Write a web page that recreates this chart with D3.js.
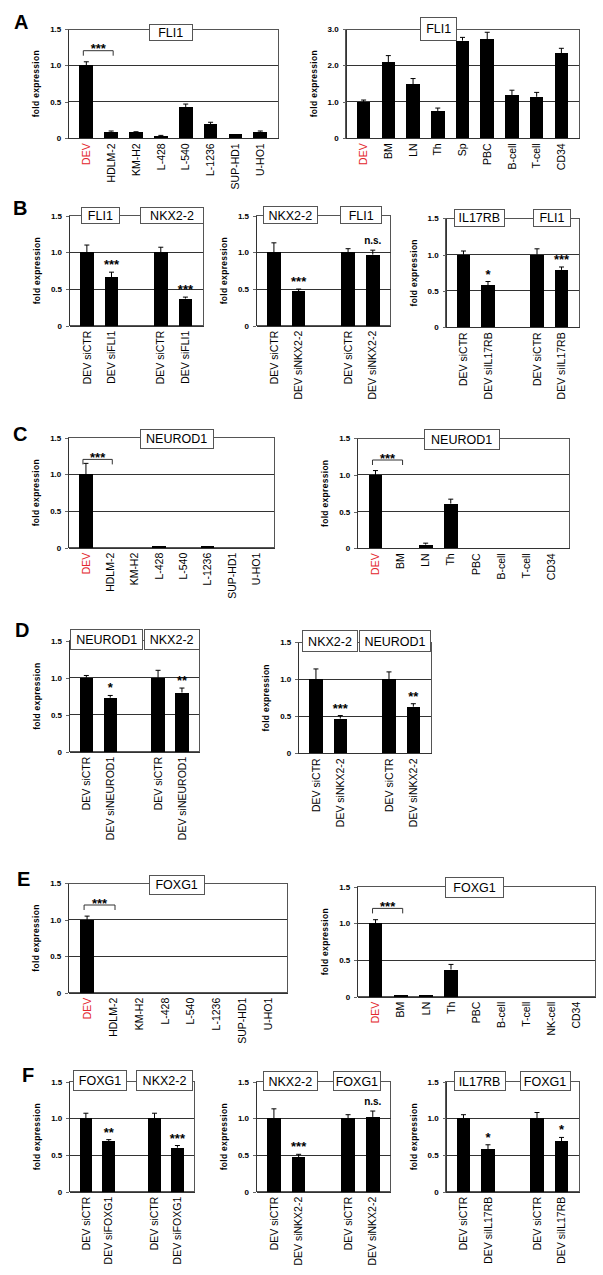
<!DOCTYPE html>
<html><head><meta charset="utf-8">
<script src="https://cdn.jsdelivr.net/npm/d3@7"></script>
<style>
html,body{margin:0;padding:0;background:#fff;}
svg{display:block;font-family:"Liberation Sans",Arial,sans-serif;}
</style></head>
<body>
<svg id="fig" width="603" height="1275"></svg>
<script>
// ---------------- DATA ----------------
const cellLines = ["DEV","HDLM-2","KM-H2","L-428","L-540","L-1236","SUP-HD1","U-HO1"];
const tissuesA = ["DEV","BM","LN","Th","Sp","PBC","B-cell","T-cell","CD34"];
const tissuesC = ["DEV","BM","LN","Th","PBC","B-cell","T-cell","CD34"];
const tissuesE = ["DEV","BM","LN","Th","PBC","B-cell","T-cell","NK-cell","CD34"];
const kdFLI1 = ["DEV siCTR","DEV siFLI1","","DEV siCTR","DEV siFLI1"];
const kdNKX22 = ["DEV siCTR","DEV siNKX2-2","","DEV siCTR","DEV siNKX2-2"];
const kdIL17RB = ["DEV siCTR","DEV siIL17RB","","DEV siCTR","DEV siIL17RB"];
const kdNEUROD1 = ["DEV siCTR","DEV siNEUROD1","","DEV siCTR","DEV siNEUROD1"];
const kdFOXG1 = ["DEV siCTR","DEV siFOXG1","","DEV siCTR","DEV siFOXG1"];

const ticks15 = [0, 0.5, 1.0, 1.5];
const ticks3 = [0, 1.0, 2.0, 3.0];

const a1Vals = [1.0, 0.09, 0.08, 0.03, 0.43, 0.19, 0.055, 0.09];
const a1Errs = [0.05, 0.01, 0.01, 0.01, 0.04, 0.03, 0, 0.01];
const a2Vals = [1.0, 2.09, 1.48, 0.75, 2.68, 2.72, 1.18, 1.14, 2.34];
const a2Errs = [0.05, 0.18, 0.16, 0.08, 0.09, 0.19, 0.14, 0.12, 0.13];

const b1Vals = [1.0, 0.66, null, 1.0, 0.37];
const b1Errs = [0.10, 0.07, null, 0.07, 0.02];
const b1Sig = ["", "***", "", "", "***"];
const b2Vals = [1.0, 0.47, null, 1.0, 0.97];
const b2Errs = [0.13, 0.03, null, 0.05, 0.06];
const b2Sig = ["", "***", "", "", "n.s."];
const b3Vals = [1.0, 0.58, null, 1.0, 0.79];
const b3Errs = [0.05, 0.05, null, 0.08, 0.04];
const b3Sig = ["", "*", "", "", "***"];

const c1Vals = [1.0, 0, 0, 0.02, 0, 0.02, 0, 0];
const c1Errs = [0.15, 0, 0, 0, 0, 0, 0, 0];
const c2Vals = [1.0, 0, 0.05, 0.61, 0, 0, 0, 0];
const c2Errs = [0.06, 0, 0.02, 0.06, 0, 0, 0, 0];

const d1Vals = [1.0, 0.73, null, 1.0, 0.80];
const d1Errs = [0.03, 0.03, null, 0.10, 0.06];
const d1Sig = ["", "*", "", "", "**"];
const d2Vals = [1.0, 0.47, null, 1.0, 0.63];
const d2Errs = [0.14, 0.04, null, 0.10, 0.04];
const d2Sig = ["", "***", "", "", "**"];

const e1Vals = [1.0, 0, 0, 0, 0, 0, 0, 0];
const e1Errs = [0.05, 0, 0, 0, 0, 0, 0, 0];
const e2Vals = [1.0, 0.02, 0.02, 0.37, 0, 0, 0, 0, 0];
const e2Errs = [0.05, 0, 0, 0.07, 0, 0, 0, 0, 0];

const f1Vals = [1.0, 0.69, null, 1.0, 0.60];
const f1Errs = [0.07, 0.02, null, 0.07, 0.03];
const f1Sig = ["", "**", "", "", "***"];
const f2Vals = [1.0, 0.47, null, 1.0, 1.02];
const f2Errs = [0.13, 0.04, null, 0.05, 0.08];
const f2Sig = ["", "***", "", "", "n.s."];
const f3Vals = [1.0, 0.58, null, 1.0, 0.69];
const f3Errs = [0.05, 0.06, null, 0.08, 0.05];
const f3Sig = ["", "*", "", "", "*"];

// ---------------- LAYOUT ----------------
const fmt15 = d => d === 0 ? "0" : d3.format(".1f")(d);
const charts = [
  {x0:68.3,x1:278.3,y0:29,y1:138.3,yMax:1.5,ticks:ticks15,cats:cellLines,vals:a1Vals,errs:a1Errs,bracket:true,
   boxes:[{t:"FLI1",x0:149,x1:192.3,y0:24.3,y1:40}]},
  {x0:345.7,x1:579.3,y0:29,y1:138.3,yMax:3.0,ticks:ticks3,cats:tissuesA,vals:a2Vals,errs:a2Errs,
   boxes:[{t:"FLI1",x0:420.7,x1:456.7,y0:17.3,y1:40}]},
  {x0:69,x1:203.3,y0:215.7,y1:325.7,yMax:1.5,ticks:ticks15,cats:kdFLI1,vals:b1Vals,errs:b1Errs,sig:b1Sig,
   boxes:[{t:"FLI1",x0:81.7,x1:119,y0:207.3,y1:223.3},{t:"NKX2-2",x0:140.7,x1:203.3,y0:207.3,y1:223.3}]},
  {x0:256,x1:390.7,y0:215.7,y1:325.7,yMax:1.5,ticks:ticks15,cats:kdNKX22,vals:b2Vals,errs:b2Errs,sig:b2Sig,
   boxes:[{t:"NKX2-2",x0:263.3,x1:317.3,y0:206.7,y1:223.3},{t:"FLI1",x0:340.7,x1:381.7,y0:206.7,y1:223.3}]},
  {x0:445.7,x1:579.3,y0:218.3,y1:327.3,yMax:1.5,ticks:ticks15,cats:kdIL17RB,vals:b3Vals,errs:b3Errs,sig:b3Sig,
   boxes:[{t:"IL17RB",x0:454,x1:504.7,y0:209.3,y1:226},{t:"FLI1",x0:533.3,x1:570.7,y0:209.3,y1:226}]},
  {x0:68.3,x1:274,y0:437.7,y1:547.7,yMax:1.5,ticks:ticks15,cats:cellLines,vals:c1Vals,errs:c1Errs,bracket:true,
   boxes:[{t:"NEUROD1",x0:140,x1:213.3,y0:429.3,y1:448.3}]},
  {x0:357.3,x1:569.3,y0:438.3,y1:548.3,yMax:1.5,ticks:ticks15,cats:tissuesC,vals:c2Vals,errs:c2Errs,bracket:true,
   boxes:[{t:"NEUROD1",x0:424,x1:499.3,y0:429.3,y1:449}]},
  {x0:69,x1:199.3,y0:640.7,y1:751.7,yMax:1.5,ticks:ticks15,cats:kdNEUROD1,vals:d1Vals,errs:d1Errs,sig:d1Sig,
   boxes:[{t:"NEUROD1",x0:70.7,x1:142.7,y0:629,y1:649.3},{t:"NKX2-2",x0:144,x1:199.3,y0:629,y1:649.3}]},
  {x0:298.3,x1:431,y0:642.3,y1:753.3,yMax:1.5,ticks:ticks15,cats:kdNKX22,vals:d2Vals,errs:d2Errs,sig:d2Sig,
   boxes:[{t:"NKX2-2",x0:302.7,x1:357.3,y0:630.7,y1:651.7},{t:"NEUROD1",x0:359.3,x1:430.7,y0:630.7,y1:651.7}]},
  {x0:68.3,x1:287.3,y0:883.3,y1:992.7,yMax:1.5,ticks:ticks15,cats:cellLines,vals:e1Vals,errs:e1Errs,bracket:true,
   boxes:[{t:"FOXG1",x0:149.3,x1:204,y0:875,y1:894}]},
  {x0:357.3,x1:595,y0:886.7,y1:996.7,yMax:1.5,ticks:ticks15,cats:tissuesE,vals:e2Vals,errs:e2Errs,bracket:true,
   boxes:[{t:"FOXG1",x0:445.7,x1:503.3,y0:877.3,y1:897.3}]},
  {x0:69.3,x1:194,y0:1081.7,y1:1191.7,yMax:1.5,ticks:ticks15,cats:kdFOXG1,vals:f1Vals,errs:f1Errs,sig:f1Sig,
   boxes:[{t:"FOXG1",x0:73.3,x1:126.7,y0:1070.7,y1:1090.7},{t:"NKX2-2",x0:136.7,x1:192.3,y0:1070.7,y1:1090.7}]},
  {x0:256,x1:390.7,y0:1081.7,y1:1191.7,yMax:1.5,ticks:ticks15,cats:kdNKX22,vals:f2Vals,errs:f2Errs,sig:f2Sig,
   boxes:[{t:"NKX2-2",x0:263,x1:317.7,y0:1071.7,y1:1090.7},{t:"FOXG1",x0:333,x1:380.8,y0:1071.7,y1:1090.7}]},
  {x0:445.7,x1:579.3,y0:1081.7,y1:1191.7,yMax:1.5,ticks:ticks15,cats:kdIL17RB,vals:f3Vals,errs:f3Errs,sig:f3Sig,
   boxes:[{t:"IL17RB",x0:454,x1:505,y0:1071.7,y1:1090.7},{t:"FOXG1",x0:520,x1:570,y0:1071.7,y1:1090.7}]}
];
const panelLetters = [
  {t:"A",x:14,y:28.5},{t:"B",x:13,y:215},{t:"C",x:13,y:441},
  {t:"D",x:15,y:637},{t:"E",x:17,y:886},{t:"F",x:22,y:1082}
];

// ---------------- DRAW ----------------
const svg = d3.select("#fig");
svg.append("rect").attr("width",603).attr("height",1275).attr("fill","#fff");

function drawChart(c){
  const x = d3.scaleBand().domain(d3.range(c.cats.length)).range([c.x0,c.x1]).padding(0.45);
  const y = d3.scaleLinear().domain([0,c.yMax]).range([c.y1,c.y0]);
  const g = svg.append("g");
  const bw = x.bandwidth();

  g.append("rect").attr("x",c.x0).attr("y",c.y0).attr("width",c.x1-c.x0).attr("height",c.y1-c.y0)
    .attr("fill","none").attr("stroke","#555").attr("stroke-width",1).attr("shape-rendering","crispEdges");

  g.selectAll("line.grid").data(c.ticks.filter(t => t > 0 && t < c.yMax)).join("line")
    .attr("class","grid").attr("x1",c.x0).attr("x2",c.x1)
    .attr("y1",d=>y(d)).attr("y2",d=>y(d))
    .attr("stroke","#333").attr("stroke-width",1).attr("shape-rendering","crispEdges");

  const ya = g.append("g").attr("transform",`translate(${c.x0},0)`)
    .call(d3.axisLeft(y).tickValues(c.ticks).tickFormat(fmt15).tickSize(3).tickSizeOuter(0).tickPadding(4));
  ya.select(".domain").attr("stroke","#333").attr("shape-rendering","crispEdges");
  ya.selectAll(".tick line").attr("stroke","#666").attr("shape-rendering","crispEdges");
  ya.selectAll(".tick text").attr("font-size",8).attr("font-weight","bold").attr("fill","#000")
    .attr("font-family","'Liberation Sans',Arial,sans-serif");

  const idx = d3.range(c.cats.length).filter(i => c.vals[i] !== null && c.vals[i] > 0);
  g.selectAll("rect.bar").data(idx).join("rect").attr("class","bar")
    .attr("x",i=>x(i)).attr("width",bw)
    .attr("y",i=>y(c.vals[i])).attr("height",i=>y(0)-y(c.vals[i]))
    .attr("fill","#000").attr("shape-rendering","crispEdges");

  const eIdx = idx.filter(i => c.errs[i] > 0);
  g.selectAll("line.err").data(eIdx).join("line").attr("class","err")
    .attr("x1",i=>x(i)+bw/2).attr("x2",i=>x(i)+bw/2)
    .attr("y1",i=>y(c.vals[i])).attr("y2",i=>y(c.vals[i]+c.errs[i]))
    .attr("stroke","#000").attr("stroke-width",1);
  g.selectAll("line.cap").data(eIdx).join("line").attr("class","cap")
    .attr("x1",i=>x(i)+bw/2-2.5).attr("x2",i=>x(i)+bw/2+2.5)
    .attr("y1",i=>y(c.vals[i]+c.errs[i])).attr("y2",i=>y(c.vals[i]+c.errs[i]))
    .attr("stroke","#000").attr("stroke-width",1);

  const xa = g.append("g").attr("transform",`translate(0,${c.y1})`)
    .call(d3.axisBottom(x).tickFormat(i=>c.cats[i]).tickSize(0).tickSizeOuter(0));
  xa.select(".domain").attr("stroke","#333").attr("shape-rendering","crispEdges");
  xa.selectAll(".tick text")
    .attr("transform","rotate(-90)").attr("text-anchor","end")
    .attr("x",-5).attr("y",0).attr("dy","0.35em")
    .attr("font-size",10.5).attr("font-family","'Liberation Sans',Arial,sans-serif")
    .attr("fill",(d)=> c.cats[d]==="DEV" ? "#e3262b" : "#000");

  if (c.sig){
    const sIdx = d3.range(c.cats.length).filter(i => c.sig[i]);
    g.selectAll("text.sig").data(sIdx).join("text").attr("class","sig")
      .attr("x",i=>x(i)+bw/2)
      .attr("y",i=>y(c.vals[i]+c.errs[i]) - (c.sig[i]==="n.s." ? 6 : 3))
      .attr("text-anchor","middle").attr("font-weight","bold")
      .attr("font-size",i=>c.sig[i]==="n.s." ? 10 : 13)
      .text(i=>c.sig[i]);
  }

  if (c.bracket){
    const xl = x(0)+bw/2-3, xr = x(1)+bw/2+2;
    const yt = y(c.yMax) + 21.7, yb = yt + 5;
    g.append("path").attr("d",`M${xl},${yb}V${yt}H${xr}V${yb}`)
      .attr("fill","none").attr("stroke","#333").attr("stroke-width",1);
    g.append("text").attr("x",(xl+xr)/2).attr("y",y(c.yMax)+24.4)
      .attr("text-anchor","middle").attr("font-weight","bold").attr("font-size",13).text("***");
  }

  c.boxes.forEach(b=>{
    g.append("rect").attr("x",b.x0).attr("y",b.y0).attr("width",b.x1-b.x0).attr("height",b.y1-b.y0)
      .attr("fill","#fff").attr("stroke","#555").attr("stroke-width",1).attr("shape-rendering","crispEdges");
    g.append("text").attr("x",(b.x0+b.x1)/2).attr("y",(b.y0+b.y1)/2).attr("dy","0.36em")
      .attr("text-anchor","middle").attr("font-size",12.5).attr("fill","#000").text(b.t);
  });

  g.append("text").attr("transform",`translate(${c.x0-32},${(c.y0+c.y1)/2}) rotate(-90)`)
    .attr("text-anchor","middle").attr("dy","0.35em").attr("font-size",8.5).attr("font-weight","bold")
    .attr("letter-spacing",0.3).text("fold expression");
}

charts.forEach(drawChart);

svg.selectAll("text.panel").data(panelLetters).join("text").attr("class","panel")
  .attr("x",d=>d.x).attr("y",d=>d.y).attr("font-size",20).attr("font-weight","bold").text(d=>d.t);
</script>
</body></html>
